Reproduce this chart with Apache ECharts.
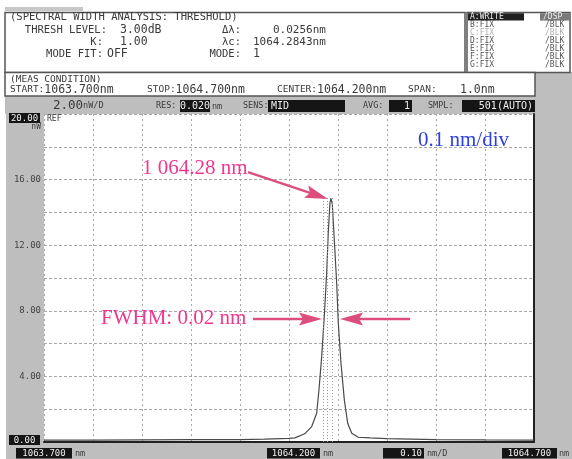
<!DOCTYPE html>
<html><head><meta charset="utf-8">
<script src="https://cdn.jsdelivr.net/npm/echarts@6/dist/echarts.min.js"></script>
<style>html,body{margin:0;padding:0;background:#fff}#c{width:572px;height:459px}</style>
</head><body><div id="c"></div>
<script>
// ---- data ----
const wavelengthNm = [1063.70, 1063.80, 1063.90, 1064.00, 1064.10, 1064.15, 1064.20, 1064.212, 1064.232, 1064.2463, 1064.2565, 1064.2612, 1064.2667, 1064.2720, 1064.2769, 1064.2802, 1064.2837, 1064.2857, 1064.2884, 1064.2924, 1064.2973, 1064.3006, 1064.3061, 1064.3129, 1064.3198, 1064.3280, 1064.3414, 1064.3653, 1064.40, 1064.50, 1064.60, 1064.70];
const powerNw = [0.12, 0.12, 0.13, 0.14, 0.15, 0.18, 0.22, 0.25, 0.50, 0.94, 1.75, 3.2, 5.2, 7.66, 10.3, 12.8, 14.6, 14.85, 14.5, 12.35, 9.7, 7.26, 4.8, 2.57, 1.14, 0.53, 0.29, 0.25, 0.20, 0.15, 0.13, 0.12];
const xMin = 1063.7, xMax = 1064.7, xStep = 0.1;
const yMin = 0, yMax = 20, yStep = 2;
const yLabelValues = [4, 8, 12, 16];
const markerNm = [1064.269, 1064.278, 1064.289];
const markerTop = 14.9;
// arrows: [fromX, fromY, toX, toY] in data units
const arrowFrom = [[1064.1163, 16.46], [1064.1265, 7.5], [1064.447, 7.5]];
const arrowTo   = [[1064.2796, 14.82], [1064.2673, 7.5], [1064.3041, 7.5]];
const peakLabel = '1 064.28 nm';
const fwhmLabel = 'FWHM: 0.02 nm';
const divLabel = '0.1 nm/div';
const traceRows = [['A:WRITE','/DSP'],['B:FIX','/BLK'],['C:FIX','/BLK'],['D:FIX','/BLK'],['E:FIX','/BLK'],['F:FIX','/BLK'],['G:FIX','/BLK']];

// ---- styles ----
const GREY = '#bebebe';
const INK = '#3a3a3a';
const MONO = 'DejaVu Sans Mono';
const PINK = '#f0388f';
const ARROW = '#dc4f7d';
const BLUE = '#2b3fe0';

const lineData = wavelengthNm.map((x, i) => [x, powerNw[i]]);
const arrowData = arrowFrom.map((f, i) => [f[0], f[1], arrowTo[i][0], arrowTo[i][1]]);

function txt(x, y, s, size, opt) {
  opt = opt || {};
  return {type: 'text', x: x, y: y, z: 20, silent: true,
    style: Object.assign({text: s, fontFamily: MONO, fontSize: size, fill: INK,
      align: 'left', verticalAlign: 'middle'}, opt)};
}
function rect(x, y, w, h, fill, stroke, z) {
  return {type: 'rect', z: z == null ? 10 : z, silent: true, shape: {x: x, y: y, width: w, height: h},
    style: {fill: fill, stroke: stroke || null, lineWidth: stroke ? 1.5 : 0}};
}
function invBox(x, y, w, h, s, size, align) {
  const els = [rect(x, y, w, h, '#151515', null, 15)];
  const tx = align === 'right' ? x + w - 2 : (align === 'left' ? x + 3 : x + w / 2);
  els.push(txt(tx, y + h / 2 + 0.5, s, size, {fill: '#f0f0f0', align: align || 'center'}));
  return els;
}

const g = [];
// panels (grey backgrounds sit below the axis labels)
g.push(rect(5, 7, 78, 4, '#c8c8c8', null, -5));
g.push(rect(535, 72, 37, 387, GREY, null, -5));
g.push(rect(5, 96, 567, 18, GREY, null, -5));
g.push(rect(6, 96, 38, 363, GREY, null, -5));
g.push(rect(6, 443, 566, 16, GREY, null, -5));
g.push(rect(5, 12.5, 460, 60, '#fff', '#555'));
g.push(rect(467, 12.5, 103, 60, '#fff', '#555'));
g.push(rect(5, 72.5, 530, 23.5, '#fff', '#555'));

// top box texts
g.push(txt(10, 17.5, '(SPECTRAL WIDTH ANALYSIS: THRESHOLD)', 10.5));
g.push(txt(107, 30, 'THRESH LEVEL:', 10.5, {align: 'right'}));
g.push(txt(120, 30, '3.00dB', 11.5));
g.push(txt(103, 42, 'K:', 10.5, {align: 'right'}));
g.push(txt(120, 42, '1.00', 11.5));
g.push(txt(103, 54, 'MODE FIT:', 10.5, {align: 'right'}));
g.push(txt(107, 54, 'OFF', 11.5));
g.push(txt(241, 30, '\u0394\u03bb:', 10.5, {align: 'right'}));
g.push(txt(273, 30, '0.0256nm', 11));
g.push(txt(241, 42, '\u03bbc:', 10.5, {align: 'right'}));
g.push(txt(253, 42, '1064.2843nm', 11));
g.push(txt(241, 54, 'MODE:', 10.5, {align: 'right'}));
g.push(txt(253, 54, '1', 11.5));

// trace list
traceRows.forEach((r, i) => {
  const y = 16.8 + i * 8.1;
  const col = i === 2 ? '#b0b0b0' : '#555';
  if (i === 0) {
    g.push(rect(468, 13.2, 56, 7.4, '#202020', null, 12));
    g.push(rect(540, 13.2, 29, 7.4, '#7a7a7a', null, 12));
    g.push(txt(470, y, r[0], 8, {fill: '#eee'}));
    g.push(txt(543, y, r[1], 8, {fill: '#eee'}));
  } else {
    g.push(txt(470, y, r[0], 8, {fill: col}));
    g.push(txt(545, y, r[1], 8, {fill: col}));
  }
});

// meas condition
const rich2 = {l: {fontFamily: MONO, fontSize: 9.5, fill: INK}, v: {fontFamily: MONO, fontSize: 11.5, fill: INK}};
g.push(txt(10, 79.5, '(MEAS CONDITION)', 9.5));
g.push(txt(10, 90, '{l|START:}{v|1063.700nm}', 10, {rich: rich2}));
g.push(txt(147, 90, '{l|STOP:}{v|1064.700nm}', 10, {rich: rich2}));
g.push(txt(277, 90, '{l|CENTER:}{v|1064.200nm}', 10, {rich: rich2}));
g.push(txt(408, 90, 'SPAN:', 9.5));
g.push(txt(460, 90, '1.0nm', 11.5));

// status band
g.push(txt(53, 106, '{v|2.00}{l|nW/D}', 10, {rich: {v: {fontFamily: MONO, fontSize: 12.5, fill: INK}, l: {fontFamily: MONO, fontSize: 8.5, fill: INK}}}));
g.push(txt(156, 106, 'RES:', 8.5));
g.push(...invBox(180, 100, 30, 12, '0.020', 10));
g.push(txt(212, 106.5, 'nm', 8.5));
g.push(txt(243, 106, 'SENS:', 8.5));
g.push(...invBox(268, 100, 77, 12, 'MID', 10, 'left'));
g.push(txt(363, 106, 'AVG:', 8.5));
g.push(...invBox(389, 100, 23, 12, '1', 10, 'right'));
g.push(txt(428, 106, 'SMPL:', 8.5));
g.push(...invBox(462, 100, 73, 12, '501(AUTO)', 10, 'right'));

// y-axis ends
g.push(...invBox(9, 113, 31, 10, '20.00', 9));
g.push(txt(41, 127, 'nW', 8, {align: 'right'}));
g.push(...invBox(9, 435, 31, 10, '0.00', 9));
g.push(txt(47, 118.5, 'REF', 8));

// bottom band
g.push(...invBox(16, 448, 56, 10.5, '1063.700', 9));
g.push(txt(75, 453.5, 'nm', 8.5));
g.push(...invBox(267, 448, 53, 10.5, '1064.200', 9));
g.push(txt(323, 453.5, 'nm', 8.5));
g.push(...invBox(383, 448, 41, 10.5, '0.10', 9, 'right'));
g.push(txt(427, 453.5, 'nm/D', 8.5));
g.push(...invBox(502, 448, 55, 10.5, '1064.700', 9));
g.push(txt(559, 453.5, 'nm', 8.5));

// annotation texts
const serif = {fontFamily: 'Liberation Serif', fontSize: 21};
g.push({type: 'text', x: 142, y: 168, z: 30, silent: true, style: Object.assign({text: peakLabel, fill: PINK, align: 'left', verticalAlign: 'middle'}, serif)});
g.push({type: 'text', x: 101, y: 318, z: 30, silent: true, style: Object.assign({text: fwhmLabel, fill: PINK, align: 'left', verticalAlign: 'middle'}, serif)});
g.push({type: 'text', x: 418, y: 140, z: 30, silent: true, style: Object.assign({text: divLabel, fill: BLUE, align: 'left', verticalAlign: 'middle'}, serif)});

const chart = echarts.init(document.getElementById('c'), null, {renderer: 'canvas'});
chart.setOption({
  animation: false,
  backgroundColor: '#fff',
  grid: {left: 44, top: 114, right: 38, bottom: 17, containLabel: false},
  xAxis: {
    type: 'value', min: xMin, max: xMax, interval: xStep,
    axisLabel: {show: false}, axisTick: {show: false},
    axisLine: {show: true, lineStyle: {color: '#222', width: 2}},
    splitLine: {show: true, lineStyle: {color: '#a8a8a8', type: [2, 3], width: 1}}
  },
  yAxis: [{
    type: 'value', min: yMin, max: yMax, interval: yStep,
    axisLine: {show: false}, axisTick: {show: false},
    axisLabel: {show: true, margin: 3, fontFamily: MONO, fontSize: 9, color: '#444',
      formatter: v => yLabelValues.indexOf(v) >= 0 ? v.toFixed(2) : ''},
    splitLine: {show: true, lineStyle: {color: '#a8a8a8', type: [3, 2], width: 1}}
  }, {
    type: 'value', position: 'right', min: yMin, max: yMax, interval: yStep,
    axisLine: {show: true, lineStyle: {color: '#222', width: 2}},
    axisTick: {show: false}, axisLabel: {show: false}, splitLine: {show: false}
  }],
  series: [{
    type: 'line', data: lineData, showSymbol: false, symbol: 'none', smooth: false,
    lineStyle: {color: '#4a4a4a', width: 1.2}, z: 3,
    markLine: {
      silent: true, symbol: 'none', animation: false,
      label: {show: false},
      lineStyle: {color: '#9a9a9a', type: [1, 2], width: 1},
      data: markerNm.map(x => [{coord: [x, 0]}, {coord: [x, markerTop]}])
    }
  }, {
    type: 'custom', silent: true, z: 6,
    data: arrowData,
    encode: {x: [0, 2], y: [1, 3]},
    renderItem: function (params, api) {
      const p0 = api.coord([api.value(0), api.value(1)]);
      const p1 = api.coord([api.value(2), api.value(3)]);
      const dx = p1[0] - p0[0], dy = p1[1] - p0[1];
      const L = Math.hypot(dx, dy), ux = dx / L, uy = dy / L;
      const hl = 23, hw = 6.5, notch = 4;
      const bx = p1[0] - ux * hl, by = p1[1] - uy * hl;
      return {type: 'group', children: [
        {type: 'line', shape: {x1: p0[0], y1: p0[1], x2: bx + ux * notch, y2: by + uy * notch},
          style: {stroke: ARROW, lineWidth: 2.4}},
        {type: 'polygon', shape: {points: [p1, [bx - uy * hw, by + ux * hw], [bx + ux * notch, by + uy * notch], [bx + uy * hw, by - ux * hw]]},
          style: {fill: ARROW}}
      ]};
    }
  }],
  graphic: {elements: g}
});
</script>
</body></html>
